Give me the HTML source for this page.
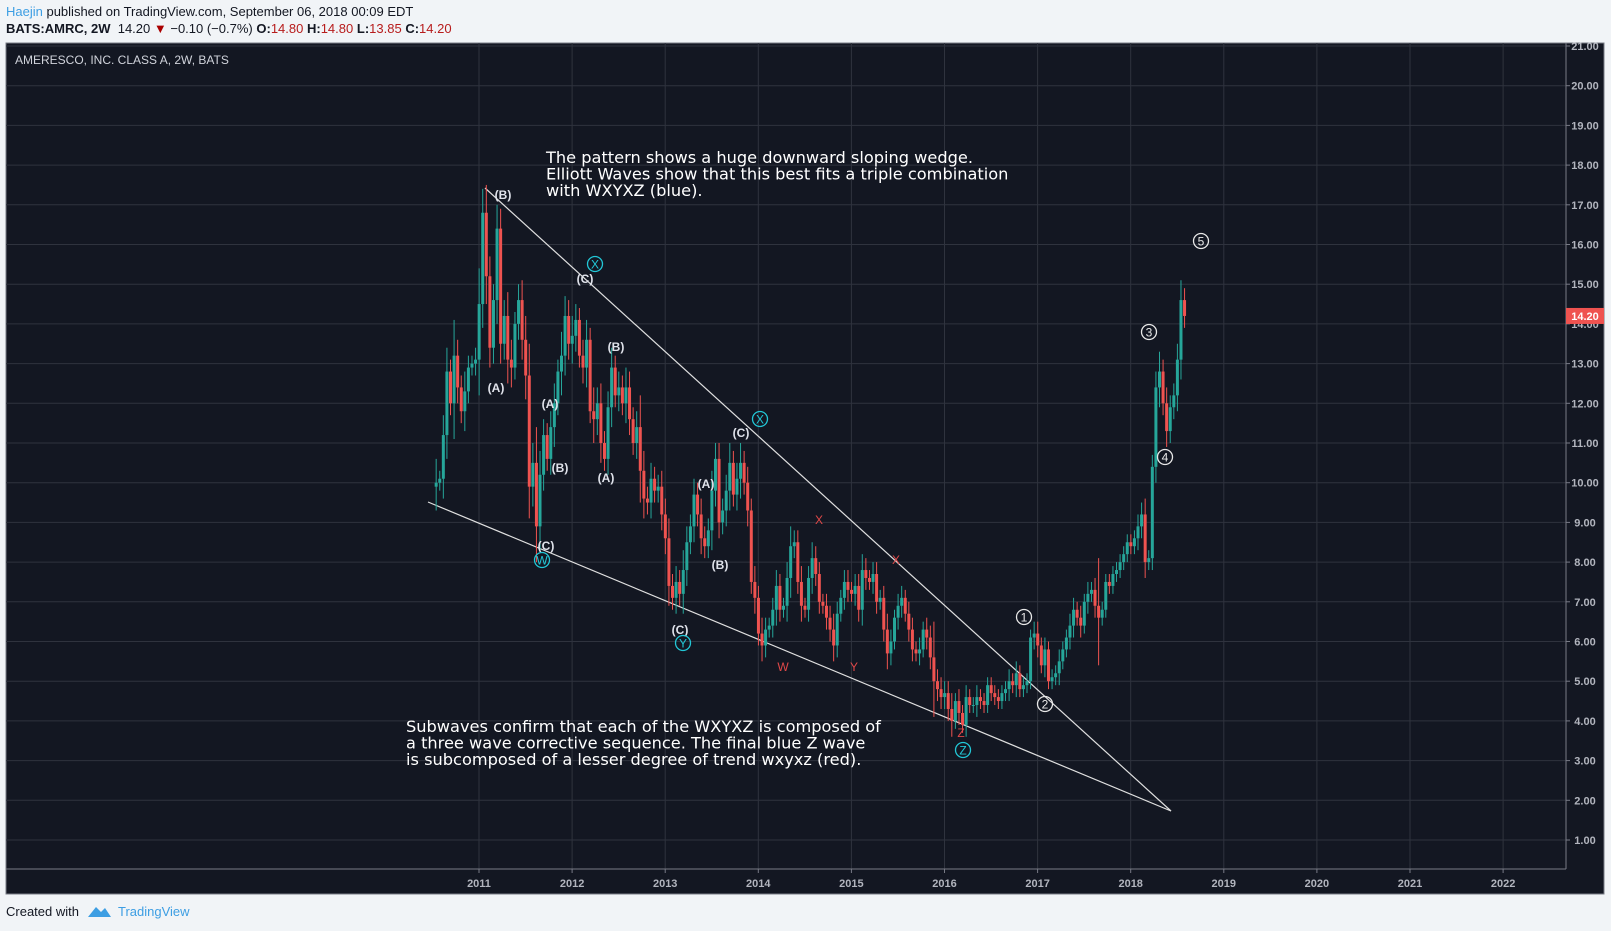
<!DOCTYPE html>
<html><head><meta charset="utf-8">
<style>
body{margin:0;width:1611px;height:931px;background:#f1f4f7;font-family:"Liberation Sans",sans-serif;overflow:hidden;position:relative}
.hd{position:absolute;left:6px;font-size:13px;color:#131722;white-space:nowrap}
</style></head>
<body>
<div class="hd" style="top:4px"><span style="color:#3d9ee3">Haejin</span> published on TradingView.com, September 06, 2018 00:09 EDT</div>
<div class="hd" style="top:21px"><b>BATS:AMRC, 2W</b>&nbsp; 14.20 <span style="color:#a00">▼</span> −0.10 (−0.7%) <b>O:</b><span style="color:#b71c1c">14.80</span> <b>H:</b><span style="color:#b71c1c">14.80</span> <b>L:</b><span style="color:#b71c1c">13.85</span> <b>C:</b><span style="color:#b71c1c">14.20</span></div>
<svg id="chart" width="1611" height="931" style="position:absolute;left:0;top:0">
<rect x="6" y="43" width="1598" height="851" fill="#131722" stroke="#787b86" stroke-width="1"/>
<g id="grid"></g><g id="lines"></g><g id="candles"></g><g id="labels"></g><g id="axes"></g>
</svg>
<div style="position:absolute;left:6px;top:904px;font-size:13px;color:#131722">Created with</div>
<svg style="position:absolute;left:86px;top:903px" width="26" height="16"><path d="M2 14 L10 4 L15 9 L19 5 L25 14 Z" fill="#3d9ee3"/></svg>
<div style="position:absolute;left:118px;top:904px;font-size:13px;color:#3d9ee3">TradingView</div>
<script>
const years=[2011,2012,2013,2014,2015,2016,2017,2018,2019,2020,2021,2022];
const priceTicks=[1,2,3,4,5,6,7,8,9,10,11,12,13,14,15,16,17,18,19,20,21];
const startTime=2010.54;
const closes=[10.0,10.1,11.2,12.8,12.0,13.2,12.4,11.8,12.3,12.9,13.0,13.1,
14.5,16.8,15.2,13.4,14.6,16.4,13.5,14.2,13.1,12.9,14.0,14.6,13.6,12.7,9.9,10.5,8.9,10.2,11.2,10.6,11.4,12.0,12.8,13.2,14.2,13.5,
13.7,14.1,13.2,12.9,13.6,11.8,11.6,12.0,11.0,10.6,11.9,12.9,12.2,12.4,12.0,12.4,11.6,11.0,11.4,10.3,9.6,9.5,10.1,9.8,9.9,9.2,
8.6,7.4,7.1,7.5,7.2,7.8,8.5,8.9,9.7,9.2,8.6,8.4,8.8,9.8,10.6,9.0,9.3,9.8,10.5,9.7,10.1,10.5,10.0,9.3,7.5,7.1,
6.2,5.9,6.3,6.4,6.8,7.4,6.8,6.9,7.6,8.4,8.5,7.5,6.9,6.8,7.6,8.1,7.7,7.0,6.9,6.6,6.3,5.9,6.7,7.1,7.5,7.3,
7.2,7.4,6.8,7.8,7.6,7.5,7.7,7.0,7.1,6.3,5.7,6.0,6.6,6.9,7.1,6.7,6.3,5.8,5.7,5.8,6.3,6.1,5.6,5.0,4.8,4.6,
4.7,4.3,4.0,4.5,4.2,3.9,4.6,4.4,4.4,4.6,4.5,4.4,4.9,4.7,4.6,4.5,4.7,4.8,5.0,4.9,5.2,4.8,4.9,5.0,6.1,6.2,
5.9,5.4,5.8,5.0,5.1,5.2,5.5,5.8,6.1,6.4,6.8,6.6,6.4,7.0,7.2,7.3,6.9,6.6,6.8,7.5,7.4,7.7,7.8,8.0,8.2,8.5,
8.4,8.6,8.9,9.2,8.0,8.1,10.4,12.4,12.8,12.0,11.3,11.9,12.2,13.1,14.6,14.2];
const wicks=[0.6,0.2,0.5,0.6,0.3,0.9,0.4,0.3,0.5,0.3,0.2,0.3,
0.9,0.6,0.7,0.5,0.4,0.6,0.5,0.4,0.6,0.5,0.3,0.4,0.5,0.6,0.8,0.5,0.9,0.6,0.4,0.3,0.4,0.5,0.3,0.6,0.5,0.4,
0.5,0.4,0.3,0.4,0.5,0.3,0.6,0.4,0.5,0.3,0.4,0.5,0.3,0.4,0.3,0.5,0.4,0.3,0.4,0.8,0.5,0.3,0.4,0.3,0.3,0.4,
0.4,0.5,0.3,0.4,0.3,0.5,0.4,0.3,0.4,0.3,0.4,0.3,0.3,0.5,0.4,0.4,0.3,0.4,0.5,0.3,0.4,0.5,0.3,0.4,0.3,0.4,
0.3,0.4,0.3,0.2,0.3,0.4,0.3,0.2,0.4,0.5,0.3,0.3,0.4,0.2,0.3,0.4,0.3,0.3,0.2,0.3,0.3,0.4,0.3,0.2,0.3,0.3,
0.2,0.3,0.3,0.4,0.3,0.2,0.3,0.3,0.2,0.3,0.4,0.3,0.2,0.3,0.3,0.2,0.3,0.3,0.2,0.3,0.2,0.3,0.3,0.9,0.3,0.3,
0.3,0.3,0.4,0.2,0.3,0.2,0.3,0.2,0.2,0.3,0.2,0.2,0.2,0.2,0.2,0.2,0.2,0.2,0.3,0.2,0.3,0.2,0.2,0.2,0.2,0.3,
0.3,0.2,0.3,0.2,0.2,0.2,0.3,0.2,0.2,0.3,0.3,0.2,0.3,0.2,0.3,0.2,0.3,1.2,0.2,0.2,0.2,0.2,0.2,0.2,0.2,0.2,
0.2,0.2,0.3,0.3,0.4,0.2,0.3,0.4,0.5,0.3,0.4,0.3,0.3,0.4,0.5,0.3];
const NS='http://www.w3.org/2000/svg';
const X=t=>479+(t-2011)*93.1;
const Y=p=>46+(21-p)*39.7;
function mk(tag,at,parent){const e=document.createElementNS(NS,tag);for(const k in at)e.setAttribute(k,at[k]);document.getElementById(parent).appendChild(e);return e;}
priceTicks.forEach(p=>{const l=mk('line',{x1:6,x2:1566,y1:Y(p),y2:Y(p),stroke:'#2f333e','stroke-width':1},'grid');


const t=mk('text',{x:1585,y:Y(p)+4,fill:'#b2b5be','font-size':11,'font-weight':'bold','font-family':'Liberation Sans, sans-serif','text-anchor':'middle'},'axes');t.textContent=p.toFixed(2);


const tk=mk('line',{x1:1566,x2:1570,y1:Y(p),y2:Y(p),stroke:'#787b86'},'axes');

});
years.forEach(yv=>{const l=mk('line',{x1:X(yv),x2:X(yv),y1:43,y2:869,stroke:'#2f333e','stroke-width':1},'grid');


const t=mk('text',{x:X(yv),y:887,fill:'#b2b5be','font-size':11,'font-weight':'bold','font-family':'Liberation Sans, sans-serif','text-anchor':'middle'},'axes');t.textContent=yv;


const tk=mk('line',{x1:X(yv),x2:X(yv),y1:869,y2:873,stroke:'#787b86'},'axes');

});
let a=mk('line',{x1:1566,x2:1566,y1:43,y2:869,stroke:'#787b86'},'axes');


a=mk('line',{x1:6,x2:1566,y1:869,y2:869,stroke:'#787b86'},'axes');


closes.forEach((c,i)=>{const o=i?closes[i-1]:c-0.1;const x=X(startTime+i/26);const up=c>=o;const col=up?'#26a69a':'#ef5350';
const hi=Math.max(o,c)+wicks[i],lo=Math.min(o,c)-wicks[i];
const w=mk('line',{x1:x,x2:x,y1:Y(hi),y2:Y(lo),stroke:col,'stroke-width':1},'candles');


const b=mk('rect',{x:x-1.5,y:Y(Math.max(o,c)),width:3,height:Math.max(1,Math.abs(Y(o)-Y(c))),fill:col},'candles');

});
a=mk('line',{x1:485,y1:188,x2:1171,y2:811,stroke:'#e0e0e0','stroke-width':1.2},'lines');


a=mk('line',{x1:428,y1:502,x2:1171,y2:811,stroke:'#e0e0e0','stroke-width':1.2},'lines');


const wl=[['(B)',503,195],['(C)',585,279],['(B)',616,347],['(A)',496,388],['(A)',550,404],['(B)',560,468],['(A)',606,478],['(C)',546,546],['(C)',741,433],['(A)',706,484],['(B)',720,565],['(C)',680,630]];
wl.forEach(d=>{const t=mk('text',{x:d[1],y:d[2]+4,fill:'#e0e3eb','font-size':12,'font-weight':'bold','font-family':'Liberation Sans, sans-serif','text-anchor':'middle'},'labels');t.textContent=d[0];

});
const rl=[['X',819,520],['X',896,560],['W',783,667],['Y',854,667],['Z',961,733]];
rl.forEach(d=>{const t=mk('text',{x:d[1],y:d[2]+4,fill:'#e04848','font-size':12,'font-family':'Liberation Sans, sans-serif','text-anchor':'middle'},'labels');t.textContent=d[0];

});
const cl=[['X',595,264,'#22c7d6'],['W',542,560,'#22c7d6'],['X',760,419,'#22c7d6'],['Y',683,643,'#22c7d6'],['Z',963,750,'#22c7d6'],['1',1024,617,'#e8e8e8'],['2',1045,704,'#e8e8e8'],['3',1149,332,'#e8e8e8'],['4',1165,457,'#e8e8e8'],['5',1201,241,'#e8e8e8']];
cl.forEach(d=>{const c=mk('circle',{cx:d[1],cy:d[2],r:7.5,fill:'none',stroke:d[3],'stroke-width':1.3},'labels');


const t=mk('text',{x:d[1],y:d[2]+4.5,fill:d[3],'font-size':12,'font-family':'Liberation Sans, sans-serif','text-anchor':'middle'},'labels');t.textContent=d[0];

});
function para(lines,x,y,name){lines.forEach((s,i)=>{const t=mk('text',{x:x,y:y+i*16.4,fill:'#ffffff','font-size':16.2,'font-family':'DejaVu Sans, sans-serif'},'labels');t.textContent=s;

});}
para(['The pattern shows a huge downward sloping wedge.','Elliott Waves show that this best fits a triple combination','with WXYXZ (blue).'],546,163,'top-annotation-text');
para(['Subwaves confirm that each of the WXYXZ is composed of','a three wave corrective sequence. The final blue Z wave','is subcomposed of a lesser degree of trend wxyxz (red).'],406,732,'bottom-annotation-text');
let tt=mk('text',{x:15,y:64,fill:'#d1d4dc','font-size':12,'font-family':'Liberation Sans, sans-serif'},'labels');tt.textContent='AMERESCO, INC. CLASS A, 2W, BATS';


const lp=closes[closes.length-1];
let r=mk('rect',{x:1566,y:Y(lp)-8,width:38,height:16,fill:'#ef5350'},'axes');


tt=mk('text',{x:1585,y:Y(lp)+4,fill:'#fff','font-size':11,'font-weight':'bold','font-family':'Liberation Sans, sans-serif','text-anchor':'middle'},'axes');tt.textContent=lp.toFixed(2);


</script>
</body></html>
